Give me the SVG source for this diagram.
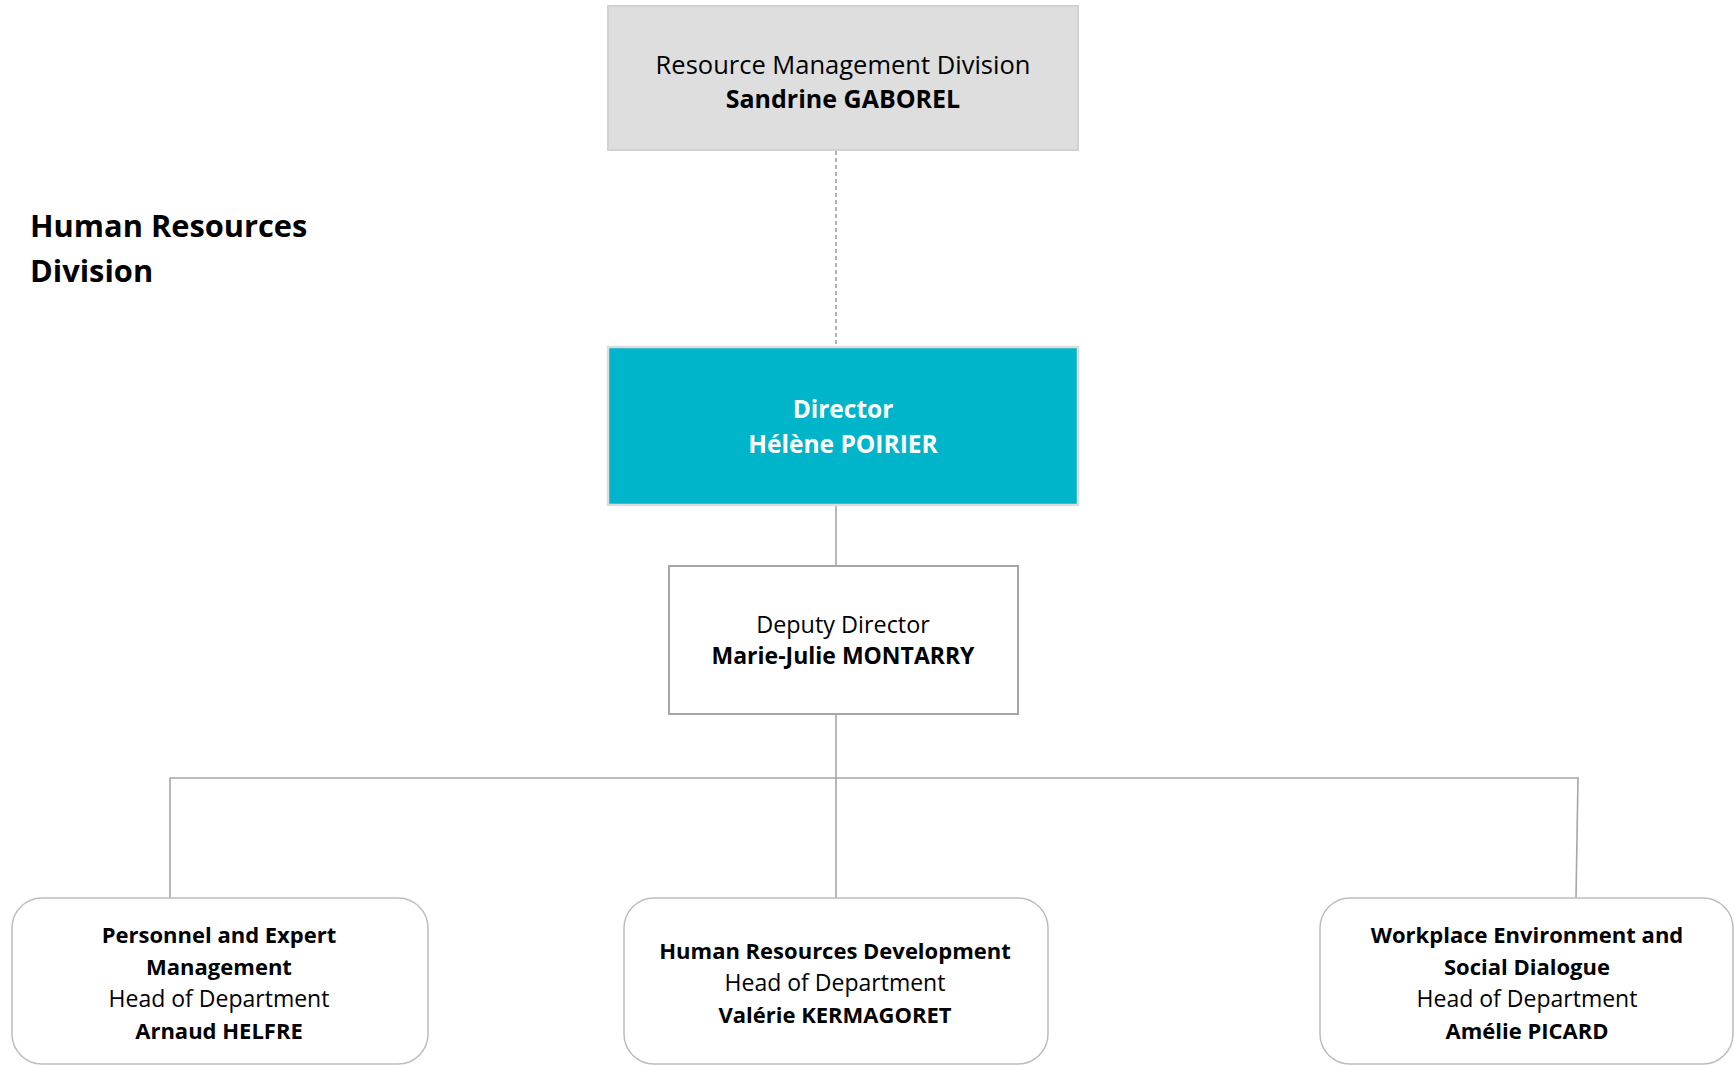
<svg xmlns="http://www.w3.org/2000/svg" width="1734" height="1065" viewBox="0 0 1734 1065">
<style>
text{font-family:"Open Sans","Liberation Sans",sans-serif;font-size:23px;fill:#000;text-anchor:middle}
.b{font-weight:bold}
.db{font-weight:bold;font-size:22px}
.top{font-size:25.5px}
.topb{font-size:25px;font-weight:bold}
.w{fill:#fff;font-weight:bold;font-size:24.5px}
.title{font-size:30.8px;font-weight:bold;text-anchor:start}
.conn{stroke:#a6a6a6;stroke-width:1.6;fill:none}
.dash{stroke:#7f7f7f;stroke-width:1.2;stroke-dasharray:4 3;fill:none}
.dept{fill:#fff;stroke:#bdbdbd;stroke-width:1.5}
</style>
<rect width="1734" height="1065" fill="#fff"/>
<g id="title">
<text class="title" x="30" y="237">Human Resources</text>
<text class="title" x="30" y="282">Division</text>
</g>
<g id="connectors">
<line class="dash" x1="836" y1="151" x2="836" y2="346"/>
<line class="conn" x1="836" y1="506" x2="836" y2="566"/>
<line class="conn" x1="836" y1="714" x2="836" y2="898"/>
<polyline class="conn" points="170,898 170,778 1578,778 1576,898"/>
</g>
<g id="resource-management">
<rect x="608" y="6" width="470" height="144" fill="#dedede" stroke="#d2d2d2" stroke-width="2"/>
<text class="top" x="843" y="74">Resource Management Division</text>
<text class="topb" x="843" y="108">Sandrine GABOREL</text>
</g>
<g id="director">
<rect x="608" y="347" width="470" height="158" fill="#00b5c9" stroke="#dcdcdc" stroke-width="2.5"/>
<text class="w" x="843" y="418">Director</text>
<text class="w" x="843" y="453">Hélène POIRIER</text>
</g>
<g id="deputy">
<rect x="669" y="566" width="349" height="148" fill="#fff" stroke="#a6a6a6" stroke-width="2"/>
<text x="843" y="633" style="font-size:23.4px">Deputy Director</text>
<text class="b" x="843" y="664">Marie-Julie MONTARRY</text>
</g>
<g id="personnel">
<rect class="dept" x="12" y="898" width="416" height="166" rx="30"/>
<text class="db" x="219" y="943">Personnel and Expert</text>
<text class="db" x="219" y="975">Management</text>
<text x="219" y="1007">Head of Department</text>
<text class="db" x="219" y="1039">Arnaud HELFRE</text>
</g>
<g id="hr-development">
<rect class="dept" x="624" y="898" width="424" height="166" rx="30"/>
<text class="db" x="835" y="959">Human Resources Development</text>
<text x="835" y="991">Head of Department</text>
<text class="db" x="835" y="1023">Valérie KERMAGORET</text>
</g>
<g id="workplace">
<rect class="dept" x="1320" y="898" width="413" height="166" rx="30"/>
<text class="db" x="1527" y="943">Workplace Environment and</text>
<text class="db" x="1527" y="975">Social Dialogue</text>
<text x="1527" y="1007">Head of Department</text>
<text class="db" x="1527" y="1039">Amélie PICARD</text>
</g>
</svg>
